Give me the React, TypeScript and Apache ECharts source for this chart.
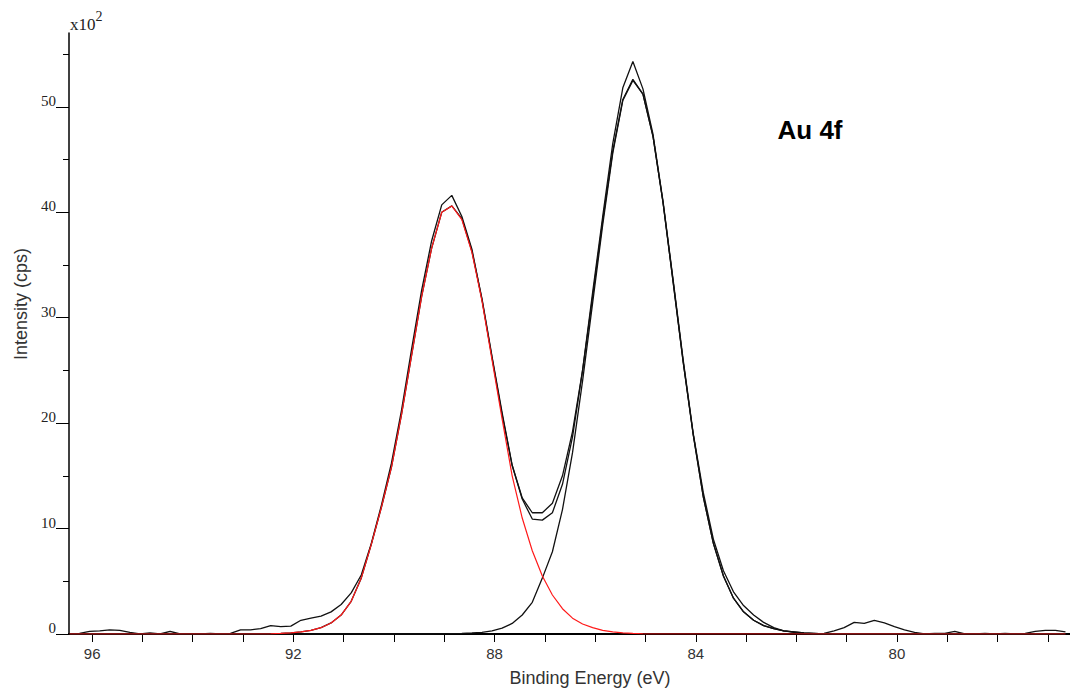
import { useEffect, useRef } from "react";
import * as echarts from "echarts";

// Binding energy grid (eV), as sampled by the instrument
const energy = [
  96.45, 96.25, 96.05, 95.85, 95.65, 95.45, 95.25, 95.05, 94.85, 94.65,
  94.45, 94.25, 94.05, 93.85, 93.65, 93.45, 93.25, 93.05, 92.85, 92.65,
  92.45, 92.25, 92.05, 91.85, 91.65, 91.45, 91.25, 91.05, 90.85, 90.65,
  90.45, 90.25, 90.05, 89.85, 89.65, 89.45, 89.25, 89.05, 88.85, 88.65,
  88.45, 88.25, 88.05, 87.85, 87.65, 87.45, 87.25, 87.05, 86.85, 86.65,
  86.45, 86.25, 86.05, 85.85, 85.65, 85.45, 85.25, 85.05, 84.85, 84.65,
  84.45, 84.25, 84.05, 83.85, 83.65, 83.45, 83.25, 83.05, 82.85, 82.65,
  82.45, 82.25, 82.05, 81.85, 81.65, 81.45, 81.25, 81.05, 80.85, 80.65,
  80.45, 80.25, 80.05, 79.85, 79.65, 79.45, 79.25, 79.05, 78.85, 78.65,
  78.45, 78.25, 78.05, 77.85, 77.65, 77.45, 77.25, 77.05, 76.85, 76.65,
];

// Measured intensity (x10^2 cps)
const rawCounts = [
  0, 0.05, 0.25, 0.3, 0.4, 0.35, 0.15, 0, 0.1, 0,
  0.25, 0, 0, 0, 0.05, 0, 0.05, 0.4, 0.4, 0.5,
  0.8, 0.7, 0.75, 1.3, 1.5, 1.7, 2.1, 2.8, 3.9, 5.6,
  8.6, 12.2, 16.2, 21.2, 27.0, 32.6, 37.3, 40.7, 41.6, 39.6,
  36.5, 31.7, 26.2, 20.8, 16.0, 12.9, 11.5, 11.5, 12.4, 15.0,
  19.2, 25.0, 32.4, 39.6, 46.5, 51.8, 54.3, 51.7, 47.4, 41.0,
  33.6, 26.0, 19.0, 13.4, 9.0, 6.0, 4.0, 2.7, 1.8, 1.1,
  0.6, 0.3, 0.15, 0.05, 0, 0.05, 0.3, 0.6, 1.1, 1.0,
  1.3, 1.05, 0.7, 0.4, 0.15, 0, 0.05, 0.05, 0.25, 0,
  0, 0.05, 0, 0.05, 0, 0.05, 0.25, 0.35, 0.35, 0.2,
];

// Fit envelope (sum of components)
const fitEnvelope = [
  0, 0, 0, 0, 0, 0, 0, 0, 0, 0,
  0, 0, 0, 0, 0, 0, 0, 0, 0, 0,
  0.02, 0.05, 0.1, 0.2, 0.35, 0.6, 1.05, 1.8, 3.1, 5.3,
  8.5, 12.0, 15.8, 20.8, 26.4, 32.0, 36.6, 40.0, 40.6, 39.4,
  36.3, 31.8, 26.3, 21.0, 16.0, 12.8, 10.9, 10.8, 11.5, 14.2,
  18.7, 25.0, 32.0, 39.2, 45.8, 50.7, 52.6, 51.2, 47.2, 40.9,
  33.4, 25.8, 18.9, 13.0, 8.6, 5.5, 3.4, 2.1, 1.3, 0.8,
  0.5, 0.3, 0.2, 0.1, 0.05, 0, 0, 0, 0, 0,
  0, 0, 0, 0, 0, 0, 0, 0, 0, 0,
  0, 0, 0, 0, 0, 0, 0, 0, 0, 0,
];

// Au 4f5/2 component (red)
const au4f52 = [
  0, 0, 0, 0, 0, 0, 0, 0, 0, 0,
  0, 0, 0, 0, 0, 0, 0, 0, 0, 0,
  0.02, 0.05, 0.1, 0.2, 0.35, 0.6, 1.05, 1.8, 3.1, 5.3,
  8.5, 12.0, 15.8, 20.8, 26.4, 32.0, 36.6, 40.0, 40.6, 39.3,
  36.2, 31.6, 26.0, 20.4, 15.0, 11.0, 7.9, 5.5, 3.7, 2.4,
  1.5, 0.95, 0.6, 0.35, 0.2, 0.1, 0.05, 0.02, 0, 0,
  0, 0, 0, 0, 0, 0, 0, 0, 0, 0,
  0, 0, 0, 0, 0, 0, 0, 0, 0, 0,
  0, 0, 0, 0, 0, 0, 0, 0, 0, 0,
  0, 0, 0, 0, 0, 0, 0, 0, 0, 0,
];

// Au 4f7/2 component (black)
const au4f72 = [
  0, 0, 0, 0, 0, 0, 0, 0, 0, 0,
  0, 0, 0, 0, 0, 0, 0, 0, 0, 0,
  0, 0, 0, 0, 0, 0, 0, 0, 0, 0,
  0, 0, 0, 0, 0, 0, 0, 0.02, 0.04, 0.06,
  0.1, 0.15, 0.3, 0.55, 1.0, 1.8, 3.0, 5.3, 7.8, 11.8,
  17.2, 24.0, 31.4, 38.8, 45.6, 50.6, 52.5, 51.2, 47.2, 40.9,
  33.4, 25.8, 18.9, 13.0, 8.6, 5.5, 3.4, 2.1, 1.3, 0.8,
  0.5, 0.3, 0.2, 0.1, 0.05, 0, 0, 0, 0, 0,
  0, 0, 0, 0, 0, 0, 0, 0, 0, 0,
  0, 0, 0, 0, 0, 0, 0, 0, 0, 0,
];

const xTickValues = [96, 95, 94, 93, 92, 91, 90, 89, 88, 87, 86, 85, 84, 83, 82, 81, 80, 79, 78, 77];
const xLabelValues = [96, 92, 88, 84, 80];
const yMajorValues = [0, 10, 20, 30, 40, 50];
const yMinorValues = [5, 15, 25, 35, 45, 55];

const X_MIN = 76.56;
const X_MAX = 96.46;
const Y_MAX = 57;

const pairs = (ys: number[]) => energy.map((e, i) => [e, ys[i]]);

export default function App() {
  const ref = useRef<HTMLDivElement>(null);

  useEffect(() => {
    if (!ref.current) return;
    const chart = echarts.init(ref.current, undefined, { renderer: "svg" });
    const lineSeries = (name: string, ys: number[], color: string, width: number) => ({
      name,
      type: "line",
      data: pairs(ys),
      showSymbol: false,
      symbol: "none",
      lineStyle: { color, width },
      silent: true,
    });
    chart.setOption({
      animation: false,
      backgroundColor: "#ffffff",
      grid: { left: 69, top: 33, right: 0, bottom: 55 },
      xAxis: [
        {
          type: "value",
          min: X_MIN,
          max: X_MAX,
          inverse: true,
          position: "bottom",
          axisLine: { show: true, lineStyle: { color: "#000", width: 2.2 } },
          axisTick: { show: true, customValues: xTickValues, length: 8, lineStyle: { color: "#000", width: 1 } },
          axisLabel: {
            customValues: xLabelValues,
            margin: 12,
            fontFamily: "Liberation Sans",
            fontSize: 15,
            color: "#333",
          },
          splitLine: { show: false },
        },
        {
          type: "value",
          min: X_MIN,
          max: X_MAX,
          inverse: true,
          position: "top",
          axisLine: { show: true, lineStyle: { color: "#000", width: 1.5 } },
          axisTick: { show: false },
          axisLabel: { show: false },
          splitLine: { show: false },
        },
      ],
      yAxis: [
        {
          type: "value",
          min: 0,
          max: Y_MAX,
          axisLine: { show: true, lineStyle: { color: "#000", width: 1.5 } },
          axisTick: { show: true, customValues: yMajorValues, length: 13, lineStyle: { color: "#000", width: 1 } },
          axisLabel: {
            customValues: yMajorValues,
            margin: 13,
            fontFamily: "Liberation Serif",
            fontSize: 15,
            color: "#222",
            verticalAlign: "bottom",
            lineHeight: 12,
          },
          splitLine: { show: false },
        },
        {
          type: "value",
          min: 0,
          max: Y_MAX,
          position: "left",
          axisLine: { show: false },
          axisTick: { show: true, customValues: yMinorValues, length: 6, lineStyle: { color: "#000", width: 1 } },
          axisLabel: { show: false },
          splitLine: { show: false },
        },
      ],
      series: [
        lineSeries("Au 4f7/2", au4f72, "#111", 1.3),
        lineSeries("Envelope", fitEnvelope, "#111", 1.3),
        lineSeries("Raw", rawCounts, "#111", 1.3),
        lineSeries("Au 4f5/2", au4f52, "#ff1a1a", 1.2),
      ],
      graphic: [
        {
          type: "text",
          x: 70,
          y: 33,
          style: {
            text: "{a|x10}{b|2}",
            verticalAlign: "bottom",
            rich: {
              a: { fontFamily: "Liberation Serif", fontSize: 17, fill: "#222", verticalAlign: "bottom" },
              b: { fontFamily: "Liberation Serif", fontSize: 14, fill: "#222", padding: [0, 0, 10, 0], verticalAlign: "bottom" },
            },
          },
        },
        {
          type: "text",
          x: 21,
          y: 304,
          rotation: Math.PI / 2,
          style: {
            text: "Intensity (cps)",
            fontFamily: "Liberation Sans",
            fontSize: 18,
            fill: "#333",
            align: "center",
            verticalAlign: "middle",
          },
        },
        {
          type: "text",
          x: 590,
          y: 678,
          style: {
            text: "Binding Energy (eV)",
            fontFamily: "Liberation Sans",
            fontSize: 18,
            fill: "#333",
            align: "center",
            verticalAlign: "middle",
          },
        },
        {
          type: "text",
          x: 810,
          y: 130,
          style: {
            text: "Au 4f",
            fontFamily: "Liberation Sans",
            fontWeight: "bold",
            fontSize: 26,
            fill: "#000",
            align: "center",
            verticalAlign: "middle",
          },
        },
      ],
    });
    return () => chart.dispose();
  }, []);

  return (
    <div
      ref={ref}
      style={{ position: "absolute", left: 0, top: 0, width: 1070, height: 689 }}
    />
  );
}
